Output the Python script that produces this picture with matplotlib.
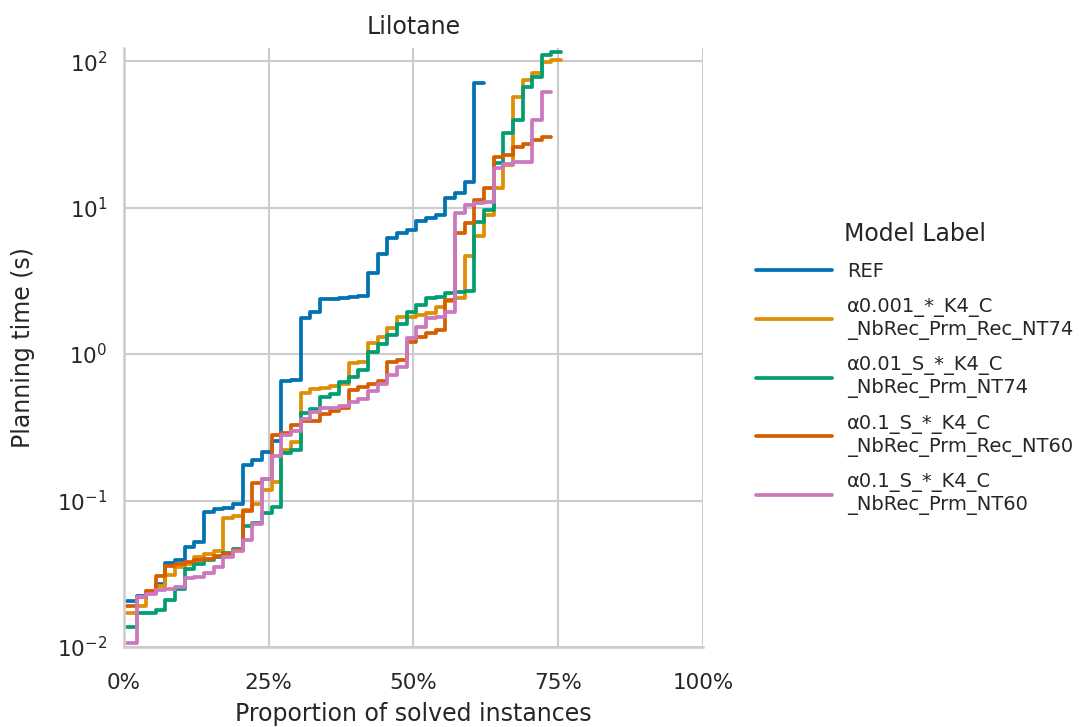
import numpy as np
import matplotlib
matplotlib.use("Agg")
import matplotlib.pyplot as plt
import seaborn as sns
from matplotlib.ticker import PercentFormatter

# total number of instances (proportion denominator) and sorted solve times per model
n_total = 60
labels = ["REF",
          "α0.001_*_K4_C\n_NbRec_Prm_Rec_NT74",
          "α0.01_S_*_K4_C\n_NbRec_Prm_NT74",
          "α0.1_S_*_K4_C\n_NbRec_Prm_Rec_NT60",
          "α0.1_S_*_K4_C\n_NbRec_Prm_NT60"]

t_ref = [0.0206, 0.0223, 0.0235, 0.0269, 0.0374, 0.039, 0.048, 0.052, 0.083, 0.087,
         0.089, 0.095, 0.174, 0.19, 0.214, 0.256, 0.655, 0.67, 1.76, 1.94,
         2.37, 2.38, 2.40, 2.44, 2.48, 3.57, 4.82, 6.2, 6.7, 7.0,
         8.1, 8.5, 8.9, 11.6, 12.6, 14.9, 70.8]
t_a001 = [0.017, 0.019, 0.024, 0.026, 0.031, 0.035, 0.037, 0.041, 0.043, 0.045,
          0.076, 0.078, 0.086, 0.094, 0.118, 0.134, 0.221, 0.25, 0.54, 0.575,
          0.59, 0.61, 0.62, 0.87, 0.88, 1.19, 1.3, 1.5, 1.79, 1.8,
          1.85, 1.9, 2.1, 2.3, 2.4, 4.67, 6.4, 8.9, 13.6, 19.5,
          56.8, 74, 82.8, 98.4, 102]
t_a01 = [0.0137, 0.017, 0.017, 0.018, 0.021, 0.025, 0.034, 0.037, 0.039, 0.041,
         0.044, 0.047, 0.067, 0.07, 0.082, 0.09, 0.21, 0.22, 0.395, 0.42,
         0.51, 0.53, 0.64, 0.70, 0.78, 1.03, 1.17, 1.34, 1.6, 1.94,
         2.15, 2.4, 2.45, 2.6, 2.65, 2.7, 7.96, 9.6, 20.1, 32.5,
         39.5, 66.5, 77.7, 110, 115]
t_a1_rec = [0.019, 0.022, 0.024, 0.0305, 0.036, 0.037, 0.038, 0.039, 0.040, 0.042,
            0.043, 0.046, 0.085, 0.131, 0.14, 0.28, 0.29, 0.33, 0.35, 0.35,
            0.39, 0.41, 0.43, 0.57, 0.6, 0.62, 0.65, 0.88, 0.91, 1.2,
            1.3, 1.4, 1.45, 2.34, 6.7, 7.8, 11.2, 13.6, 22.1, 23,
            26, 27, 29, 30.3]
t_a1 = [0.0106, 0.022, 0.023, 0.0245, 0.025, 0.0255, 0.0296, 0.030, 0.032, 0.035,
        0.041, 0.045, 0.054, 0.069, 0.14, 0.2, 0.28, 0.30, 0.36, 0.40,
        0.43, 0.43, 0.44, 0.47, 0.49, 0.56, 0.62, 0.72, 0.81, 1.29,
        1.53, 1.77, 1.80, 1.94, 9.2, 10.4, 10.7, 10.9, 18.6, 20.0,
        20.4, 20.6, 39.5, 61.4]

series = [t_ref, t_a001, t_a01, t_a1_rec, t_a1]
colors = sns.color_palette("colorblind", 5)

sns.set_theme(style="whitegrid")
plt.rcParams['font.family'] = ['DejaVu Sans']
txt = "#262626"

fig = plt.figure(figsize=(10.79, 7.27), dpi=100)
ax = fig.add_axes([0.1149, 0.110, 0.5366, 0.824])

for times, lab, col in zip(series, labels, colors):
    n = len(times)
    x = 0.005 + np.arange(n + 1) / n_total
    y = list(times) + [times[-1]]
    ax.step(x, y, where="post", color=col, lw=2.7, label=lab)

ax.set_yscale("log")
ax.set_ylim(0.01, 123)
ax.set_xlim(0, 1)
ax.set_xticks([0, 0.25, 0.5, 0.75, 1.0])
ax.xaxis.set_major_formatter(PercentFormatter(1.0, decimals=0))
ax.yaxis.set_minor_locator(matplotlib.ticker.NullLocator())
ax.tick_params(labelsize=15.5, colors=txt, pad=6)
ax.tick_params(axis="x", pad=13)
ax.grid(True, color="#cccccc", lw=1.5)
for s in ["top", "right"]:
    ax.spines[s].set_visible(False)
for s in ["left", "bottom"]:
    ax.spines[s].set_color("#cccccc")
    ax.spines[s].set_linewidth(1.8)

ax.set_xlabel("Proportion of solved instances", fontsize=17, color=txt, labelpad=6)
ax.set_ylabel("Planning time (s)", fontsize=17, color=txt, labelpad=16)
ax.set_title("Lilotane", fontsize=17, color=txt, pad=10)

leg = ax.legend(title="Model Label", loc="center left", bbox_to_anchor=(1.061, 0.465),
                frameon=False, fontsize=14, title_fontsize=17,
                handlelength=3.9, handletextpad=0.8, labelspacing=0.85)
for line in leg.get_lines():
    line.set_linewidth(2.7)

fig.savefig("out.png", dpi=100)
